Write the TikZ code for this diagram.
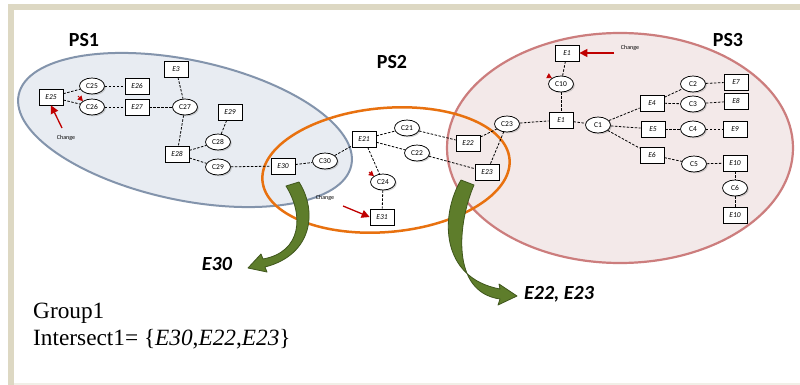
\documentclass[tikz,border=0pt]{standalone}
\usepackage{fontspec}
\setmainfont{Liberation Serif}
\setsansfont{Carlito}
\usetikzlibrary{shapes.geometric,arrows.meta,shadows}
\definecolor{framec}{HTML}{DDD8C3}
\definecolor{psone}{HTML}{E8ECF2}
\definecolor{psoneb}{HTML}{8394AC}
\definecolor{psthree}{HTML}{F3E9E9}
\definecolor{psthreeb}{HTML}{CC7D7D}
\definecolor{pstwob}{HTML}{E8710F}
\definecolor{grn}{HTML}{5E7D2B}
\definecolor{grnd}{HTML}{3F561C}
\definecolor{redc}{HTML}{C00000}
\begin{document}
\begin{tikzpicture}[x=1pt,y=-1pt,
  ent/.style={draw,line width=0.75pt,fill=white,minimum width=24pt,minimum height=16pt,inner sep=0pt,
    font=\sffamily\itshape\fontsize{7.5}{8}\selectfont,
    drop shadow={shadow xshift=1.3pt,shadow yshift=-1.3pt,opacity=0.35}},
  con/.style={ellipse,draw,line width=0.75pt,fill=white,minimum width=25pt,minimum height=16pt,inner sep=0pt,
    font=\sffamily\fontsize{7.5}{8}\selectfont,
    drop shadow={shadow xshift=1.3pt,shadow yshift=-1.3pt,opacity=0.35}},
  lnk/.style={dash pattern=on 2.5pt off 1.5pt,line width=0.8pt},
  pslabel/.style={font=\sffamily\bfseries\fontsize{20}{22}\selectfont},
  chg/.style={font=\sffamily\fontsize{6}{7}\selectfont},
  redarrow/.style={draw=redc,line width=1.3pt,-{Triangle[length=8pt,width=8pt]}},
  redmark/.style={draw=redc,fill=redc,line width=0.8pt,-{Triangle[length=5pt,width=5.5pt]}},
  bigtext/.style={font=\fontsize{23.3}{26}\selectfont,anchor=base west,inner sep=0pt},
  grnarrow/.style={fill=grn,draw=grnd,line width=0.8pt,line join=round},
  gtext/.style={font=\sffamily\bfseries\itshape\fontsize{20}{22}\selectfont}
]
\useasboundingbox (0,0) rectangle (800,385);
\fill[white] (0,0) rectangle (800,385);
% frame
\fill[framec] (8,4) rectangle (800,10);
\fill[framec] (8,4) rectangle (14,385);
\fill[framec!40] (14,383) rectangle (800,385);

% package sets
\draw[fill=psone,draw=psoneb,line width=2pt,rotate around={-12:(185,130)}] (185,130) ellipse [x radius=170,y radius=70];
\draw[fill=psthree,draw=psthreeb,line width=2.2pt] (620,148) ellipse [x radius=173,y radius=115];
\draw[draw=pstwob,line width=2.5pt,rotate around={5:(386,170)}] (386,170) ellipse [x radius=124,y radius=62];

\node[pslabel] (ps1) at (84,40) {PS1};
\node[pslabel] (ps2) at (392,62) {PS2};
\node[pslabel] (ps3) at (728,40) {PS3};

% nodes PS1
\node[ent] (E25) at (51,97) {E25};
\node[con] (C25) at (92,86) {C25};
\node[con] (C26) at (92,107) {C26};
\node[ent] (E26) at (137,86) {E26};
\node[ent] (E27) at (137,107) {E27};
\node[con] (C27) at (185,107) {C27};
\node[ent] (E3) at (176,69) {E3};
\node[ent] (E29) at (230,112) {E29};
\node[con] (C28) at (218,142) {C28};
\node[ent] (E28) at (177,154) {E28};
\node[con] (C29) at (218,167) {C29};
% nodes PS2
\node[ent] (E30) at (283,166) {E30};
\node[con] (C30) at (325,161) {C30};
\node[ent] (E21) at (364,139) {E21};
\node[con] (C21) at (407,128) {C21};
\node[con] (C22) at (417,153) {C22};
\node[ent] (E22) at (468,143) {E22};
\node[ent] (E23) at (487,172) {E23};
\node[con] (C24) at (383,182) {C24};
\node[ent] (E31) at (382,217) {E31};
% nodes PS3
\node[con] (C23) at (507,124) {C23};
\node[ent] (E1a) at (567,53) {E1};
\node[con] (C10) at (561,84) {C10};
\node[ent] (E1b) at (561,120) {E1};
\node[con] (C1) at (598,125) {C1};
\node[ent] (E4) at (652,103) {E4};
\node[con] (C2) at (693,84) {C2};
\node[con] (C3) at (693,104) {C3};
\node[ent] (E7) at (736,82) {E7};
\node[ent] (E8) at (736,101) {E8};
\node[ent] (E5) at (653,129) {E5};
\node[con] (C4) at (693,129) {C4};
\node[ent] (E9) at (735,129) {E9};
\node[ent] (E6) at (652,155) {E6};
\node[con] (C5) at (694,164) {C5};
\node[ent] (E10a) at (735,163) {E10};
\node[con] (C6) at (735,188) {C6};
\node[ent] (E10b) at (735,215) {E10};

% links
\draw[lnk] (E25) -- (C25);
\draw[lnk] (E25) -- (C26);
\draw[lnk] (C25) -- (E26);
\draw[lnk] (C26) -- (E27);
\draw[lnk] (E27) -- (C27);
\draw[lnk] (E3) -- (C27);
\draw[lnk] (C27) -- (E28);
\draw[lnk] (E28) -- (C28);
\draw[lnk] (E28) -- (C29);
\draw[lnk] (C28) -- (E29);
\draw[lnk] (C29) -- (E30);
\draw[lnk] (E30) -- (C30);
\draw[lnk] (C30) -- (E21);
\draw[lnk] (E21) -- (C21);
\draw[lnk] (E21) -- (C22);
\draw[lnk] (E21) -- (C24);
\draw[lnk] (C21) -- (E22);
\draw[lnk] (C22) -- (E23);
\draw[lnk] (C24) -- (E31);
\draw[lnk] (E22) -- (C23);
\draw[lnk] (E23) -- (C23);
\draw[lnk] (C23) -- (E1b);
\draw[lnk] (E1a) -- (C10);
\draw[lnk] (C10) -- (E1b);
\draw[lnk] (E1b) -- (C1);
\draw[lnk] (C1) -- (E4);
\draw[lnk] (C1) -- (E5);
\draw[lnk] (C1) -- (E6);
\draw[lnk] (E4) -- (C2);
\draw[lnk] (E4) -- (C3);
\draw[lnk] (C2) -- (E7);
\draw[lnk] (C3) -- (E8);
\draw[lnk] (E5) -- (C4);
\draw[lnk] (C4) -- (E9);
\draw[lnk] (E6) -- (C5);
\draw[lnk] (C5) -- (E10a);
\draw[lnk] (E10a) -- (C6);
\draw[lnk] (C6) -- (E10b);

% change markers
\coordinate (a1) at (62,128);
\draw[redarrow] (a1) -- (E25.south);
\node[chg] (ch1) at (66,138) {Change};
\coordinate (a2) at (343,206);
\draw[redarrow] (a2) -- (E31.west);
\node[chg] (ch2) at (325,198) {Change};
\coordinate (a3) at (614,53);
\draw[redarrow] (a3) -- (E1a.east);
\node[chg] (ch3) at (630,48) {Change};
\coordinate (m1) at (78,96);
\draw[redmark] (m1) -- (C26.north west);
\coordinate (m2) at (369,172);
\draw[redmark] (m2) -- (C24.north west);
\coordinate (m3) at (548,76);
\draw[redmark] (m3) -- (C10.north west);

% green arrows
\draw[grnarrow] (286,186) .. controls (304,215) and (302,252) .. (263,259)
  -- (261,254) -- (248,268) -- (267,272) -- (265,267)
  .. controls (312,255) and (318,212) .. (299,182) -- cycle;
\draw[grnarrow] (461,180) .. controls (440,215) and (440,278) .. (500,289)
  -- (499,284) -- (517,296) -- (498,305) -- (500,299)
  .. controls (450,292) and (458,222) .. (474,185) -- cycle;
\node[gtext] (g1) at (217,264) {E30};
\node[gtext] (g2) at (559,294) {E22, E23};

% bottom text
\node[bigtext] (grp) at (33,318) {Group1};
\node[bigtext] (ints) at (33,345) {Intersect1= \{\textit{E30},\textit{E22},\textit{E23}\}};
\end{tikzpicture}
\end{document}
